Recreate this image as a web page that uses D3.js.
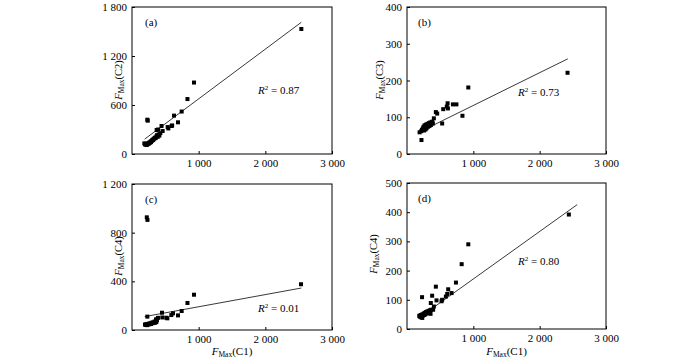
<!DOCTYPE html>
<html>
<head>
<meta charset="utf-8">
<script src="https://cdn.jsdelivr.net/npm/d3@7"></script>
<style>
  body { margin: 0; background: #fff; }
  svg text { font-family: "Liberation Serif", "Times New Roman", serif; fill: #000; }
</style>
</head>
<body>
<div id="chart"></div>
<script>
// FMax(C1) on x for every panel, second component on y
const pointsA = [
  [185,130],[195,120],[205,115],[210,125],[220,110],[228,118],[240,130],[250,125],[258,140],[265,135],
  [275,150],[285,145],[292,160],[300,165],[310,175],[318,170],[325,185],[335,190],[345,200],[355,195],
  [365,215],[375,230],[385,210],[400,240],[410,225],[425,255],
  [230,420],[236,408],[370,294],[393,300],[443,343],[460,282],[535,330],[545,313],[595,343],[602,350],
  [630,470],[690,388],[745,520],[832,673],[930,875],[2540,1531]
];
const pointsB = [
  [215,62],[225,66],[240,70],[250,74],[258,68],[260,64],[265,78],[272,72],[280,75],[280,67],
  [288,80],[295,70],[300,77],[308,82],[315,74],[322,79],[330,84],[338,76],[345,82],[352,86],
  [360,79],[370,85],[380,88],[390,83],
  [190,59],[218,38],[405,97],[435,114],[455,110],[530,83],[546,122],[600,129],[612,138],[617,124],
  [692,135],[745,135],[836,104],[924,181],[2420,221]
];
const pointsC = [
  [195,45],[205,42],[215,48],[225,40],[235,50],[245,45],[255,52],[265,48],[275,55],[285,50],
  [295,60],[305,55],[315,62],[325,58],[335,68],[345,60],[355,72],[365,65],[375,80],[360,85],
  [222,926],[232,905],[230,110],[366,88],[390,100],[450,142],[455,103],[515,101],[530,96],[590,123],
  [615,137],[690,120],[745,156],[832,222],[930,290],[2535,376]
];
const pointsD = [
  [185,45],[195,42],[205,48],[215,40],[222,44],[230,38],[230,50],[240,46],[250,52],[258,48],
  [265,55],[275,50],[285,58],[295,53],[305,60],[315,55],[325,62],[335,58],[345,64],[355,52],[365,66],
  [227,109],[359,89],[379,114],[394,66],[405,77],[435,145],[445,98],[521,95],[530,100],[586,111],
  [606,120],[621,136],[672,123],[738,159],[824,222],[924,290],[2440,392]
];

// linear trend lines, endpoints
const fitA = [[190,182],[2540,1613]];
const fitB = [[190,60],[2424,259]];
const fitC = [[190,110],[2540,345]];
const fitD = [[180,38],[2566,426]];

const r2Labels = ["0.87", "0.73", "0.01", "0.80"];
const panelTags = ["(a)", "(b)", "(c)", "(d)"];
const yNames = ["C2", "C3", "C4", "C4"];
const yMax = [1800, 400, 1200, 500];
const yTicksA = [0, 600, 1200, 1800];
const yTicksB = [0, 100, 200, 300, 400];
const yTicksC = [0, 400, 800, 1200];
const yTicksD = [0, 100, 200, 300, 400, 500];
const xTicks = [1000, 2000, 3000];
const xMax = 3000;

const W = 700, H = 362;
const boxes = [
  { left: 132, right: 332, top: 7, bottom: 154, yLab: 118, yMid: 80, r2x: 258, r2y: 94 },
  { left: 407, right: 606, top: 7, bottom: 154, yLab: 379, yMid: 80, r2x: 518, r2y: 96 },
  { left: 132, right: 332, top: 184, bottom: 330, yLab: 118, yMid: 256, r2x: 258, r2y: 312 },
  { left: 407, right: 606, top: 183, bottom: 329, yLab: 373, yMid: 254, r2x: 518, r2y: 265 }
];
const panels = [
  { pts: pointsA, fit: fitA, ticks: yTicksA },
  { pts: pointsB, fit: fitB, ticks: yTicksB },
  { pts: pointsC, fit: fitC, ticks: yTicksC },
  { pts: pointsD, fit: fitD, ticks: yTicksD }
];

const fmt = v => d3.format(",")(v).replace(/,/g, " ");

const svg = d3.select("#chart").append("svg")
  .attr("width", W).attr("height", H);

// F_Max(Cn) label: italic F, small "Max" subscript
function fmaxLabel(sel, name) {
  sel.append("tspan").attr("font-style", "italic").text("F");
  sel.append("tspan").attr("font-size", 7.5).attr("dy", 2).text("Max");
  sel.append("tspan").attr("dy", -2).text(`(${name})`);
}

panels.forEach((p, i) => {
  const b = boxes[i];
  const w = b.right - b.left, h = b.bottom - b.top;
  const g = svg.append("g").attr("transform", `translate(${b.left},${b.top})`);

  const x = d3.scaleLinear().domain([0, xMax]).range([0, w]);
  const y = d3.scaleLinear().domain([0, yMax[i]]).range([h, 0]);

  g.append("rect")
    .attr("width", w).attr("height", h)
    .attr("fill", "none").attr("stroke", "#000").attr("stroke-width", 1);

  const xa = g.append("g").attr("transform", `translate(0,${h})`)
    .call(d3.axisBottom(x).tickValues(xTicks).tickFormat(fmt).tickSizeInner(-3).tickSizeOuter(0).tickPadding(5));
  const ya = g.append("g")
    .call(d3.axisLeft(y).tickValues(p.ticks).tickFormat(fmt).tickSizeInner(-3).tickSizeOuter(0).tickPadding(5));
  [xa, ya].forEach(a => {
    a.select(".domain").remove();
    a.selectAll("line").attr("stroke", "#000");
    a.selectAll("text").attr("font-size", 11).attr("font-family", "Liberation Serif");
  });

  g.append("line")
    .attr("x1", x(p.fit[0][0])).attr("y1", y(p.fit[0][1]))
    .attr("x2", x(p.fit[1][0])).attr("y2", y(p.fit[1][1]))
    .attr("stroke", "#222").attr("stroke-width", 0.9);

  g.selectAll("rect.pt").data(p.pts).join("rect")
    .attr("class", "pt")
    .attr("x", d => x(d[0]) - 2).attr("y", d => y(d[1]) - 2)
    .attr("width", 4).attr("height", 4)
    .attr("fill", "#000");

  g.append("text").attr("x", i % 2 ? 11 : 13).attr("y", 19)
    .attr("font-size", 11).text(panelTags[i]);

  const r2 = svg.append("text").attr("x", b.r2x).attr("y", b.r2y).attr("font-size", 11);
  r2.append("tspan").attr("font-style", "italic").text("R");
  r2.append("tspan").attr("font-size", 7).attr("dy", -4).text("2");
  r2.append("tspan").attr("dy", 4).text(` = ${r2Labels[i]}`);

  const yl = svg.append("text")
    .attr("transform", `translate(${b.yLab},${b.yMid}) rotate(-90)`)
    .attr("text-anchor", "middle").attr("dy", "0.35em").attr("font-size", 10.5);
  fmaxLabel(yl, yNames[i]);

  if (i >= 2) {
    const xl = svg.append("text")
      .attr("x", b.left + w / 2).attr("y", 355)
      .attr("text-anchor", "middle").attr("font-size", 11);
    fmaxLabel(xl, "C1");
  }
});
</script>
</body>
</html>
